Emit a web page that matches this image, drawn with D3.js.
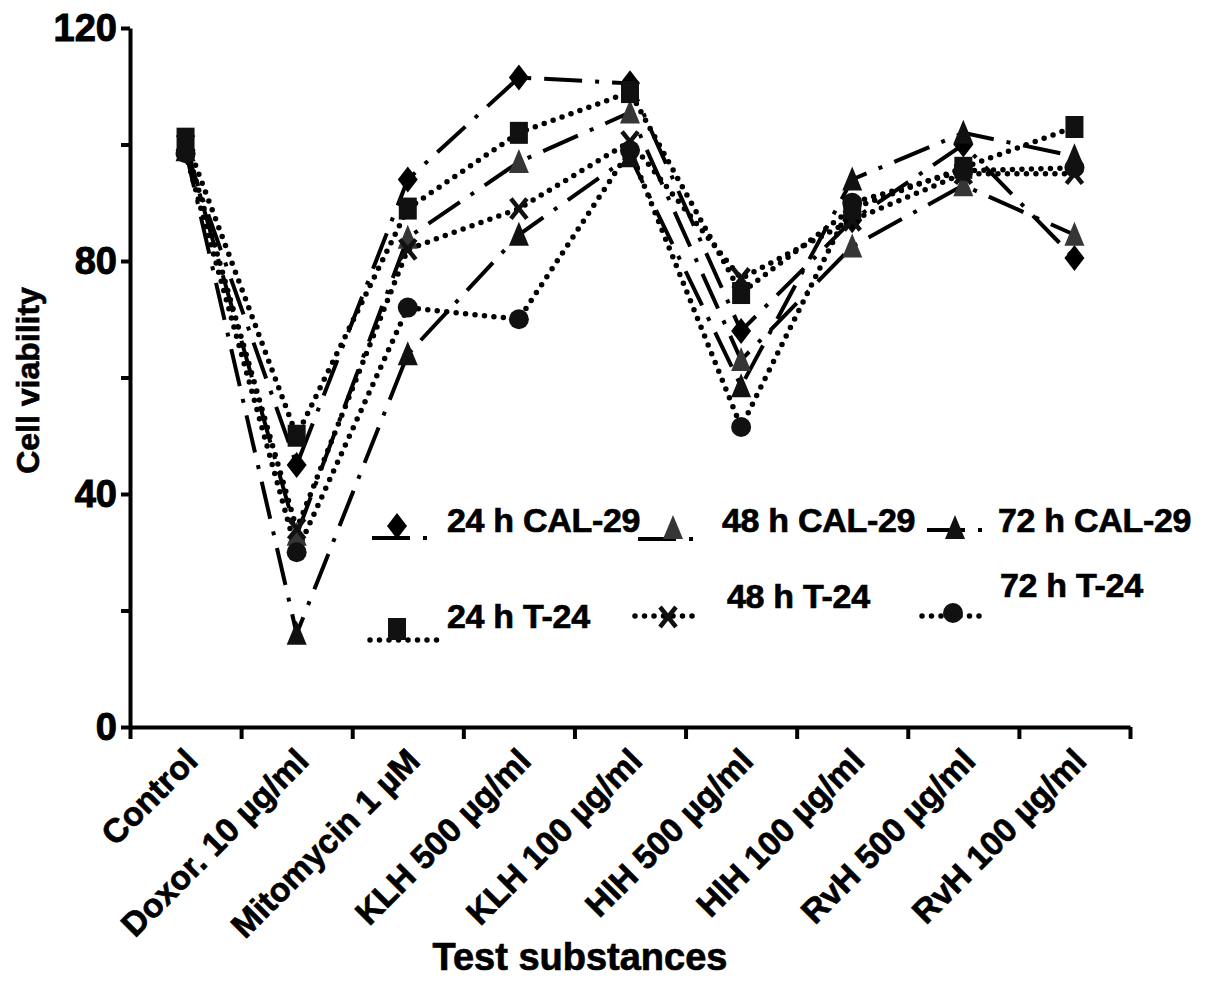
<!DOCTYPE html>
<html>
<head>
<meta charset="utf-8">
<title>Cell viability</title>
<style>
  body { margin: 0; background: #fff; }
  text { font-family: "Liberation Sans", Arial, sans-serif; font-weight: bold; fill: #000; stroke: #000; stroke-width: 0.7px; }
</style>
</head>
<body>
<div id="chart"></div>
<script src="https://cdn.jsdelivr.net/npm/d3@7"></script>
<script>
// data
const categories = ["Control", "Doxor. 10 µg/ml", "Mitomycin 1 µM", "KLH 500 µg/ml", "KLH 100 µg/ml",
                    "HlH 500 µg/ml", "HlH 100 µg/ml", "RvH 500 µg/ml", "RvH 100 µg/ml"];
const cal24h = [99, 45, 94, 111.5, 110.5, 68, 87, 100, 80.5];
const cal48h = [100, 33, 84, 97, 105.5, 63, 82.5, 93, 84.5];
const cal72h = [99, 16, 64, 84.5, 98, 58.5, 94, 102, 98];
const t24h = [101, 50, 89, 102, 109, 74.5, 89, 96, 103];
const t48h = [100, 34, 82, 89, 100.5, 77, 87, 95, 95];
const t72h = [98.5, 30, 72, 70, 99, 51.5, 90, 95.5, 96];
const yTicks = [0, 20, 40, 60, 80, 100, 120];
const yLabels = [0, 40, 80, 120];

const W = 1205, H = 990;
const x0 = 130, x1 = 1130, yBottom = 727, yTop = 28;

const svg = d3.select("#chart").append("svg")
    .attr("width", W)
    .attr("height", H);

const x = d3.scaleBand().domain(categories).range([x0, x1]);
const xEdges = d3.scaleLinear().domain([0, categories.length]).range([x0, x1]);
const y = d3.scaleLinear().domain([0, 120]).range([yBottom, yTop]);

// marker shapes (fixed size, ignore d3 size)
const shapes = {
    diamond: { draw(c) { c.moveTo(0, -13); c.lineTo(10, 0); c.lineTo(0, 13); c.lineTo(-10, 0); c.closePath(); } },
    triangle: { draw(c) { c.moveTo(0, -13); c.lineTo(10, 11); c.lineTo(-10, 11); c.closePath(); } },
    square: { draw(c) { c.rect(-9, -11, 18, 22); } },
    circle: { draw(c) { c.ellipse ? c.ellipse(0, 0, 9, 11.5, 0, 0, 2 * Math.PI) : c.arc(0, 0, 10, 0, 2 * Math.PI); } }
};

const calDash = "38,13,4,13";
const series = [
    { name: "24 h CAL-29", values: cal24h, shape: "diamond", fill: "#000", dotted: false },
    { name: "48 h CAL-29", values: cal48h, shape: "triangle", fill: "#363636", dotted: false },
    { name: "72 h CAL-29", values: cal72h, shape: "triangle", fill: "#111", dotted: false },
    { name: "24 h T-24", values: t24h, shape: "square", fill: "#111", dotted: true },
    { name: "48 h T-24", values: t48h, shape: "cross", fill: "#111", dotted: true },
    { name: "72 h T-24", values: t72h, shape: "circle", fill: "#111", dotted: true }
];

function styleLine(sel, s) {
    if (s.dotted) {
        sel.attr("stroke-width", 5.5).attr("stroke-dasharray", "0,9.5").attr("stroke-linecap", "round");
    } else {
        sel.attr("stroke-width", 4).attr("stroke-dasharray", calDash).attr("stroke-linecap", "butt");
    }
    return sel.attr("fill", "none").attr("stroke", "#000");
}

function drawMarker(g, s, cx, cy) {
    if (s.shape === "cross") {
        g.append("path")
            .attr("d", `M${cx - 8},${cy - 10}L${cx + 8},${cy + 10}M${cx + 8},${cy - 10}L${cx - 8},${cy + 10}`)
            .attr("stroke", s.fill).attr("stroke-width", 4.5).attr("fill", "none");
    } else {
        g.append("path")
            .attr("d", d3.symbol().type(shapes[s.shape])())
            .attr("transform", `translate(${cx},${cy})`)
            .attr("fill", s.fill);
    }
}

// axes
const yAxis = svg.append("g")
    .attr("transform", `translate(${x0},0)`)
    .call(d3.axisLeft(y).tickValues(yTicks).tickSize(9).tickSizeOuter(0)
        .tickFormat(d => yLabels.includes(d) ? d : ""));
yAxis.select(".domain").attr("stroke-width", 4);
yAxis.selectAll(".tick line").attr("stroke-width", 4);
yAxis.selectAll(".tick text")
    .attr("x", -13)
    .style("font-size", "38px")
    .style("font-family", "'Liberation Sans', Arial, sans-serif")
    .style("font-weight", "bold")
    .style("stroke", "#000")
    .style("stroke-width", "1px");

const xAxis = svg.append("g")
    .attr("transform", `translate(0,${yBottom})`)
    .call(d3.axisBottom(xEdges).tickValues(d3.range(0, categories.length + 1)).tickSize(12)
        .tickSizeOuter(0).tickFormat(""));
xAxis.select(".domain").attr("stroke-width", 4);
xAxis.selectAll(".tick line").attr("stroke-width", 4);

svg.append("g").selectAll("text")
    .data(categories)
    .join("text")
    .attr("text-anchor", "end")
    .attr("transform", d => `translate(${x(d) + x.bandwidth() / 2 + 14},${yBottom + 36}) rotate(-45)`)
    .style("font-size", "33.5px")
    .text(d => d);

// titles
svg.append("text")
    .attr("text-anchor", "middle")
    .attr("transform", `translate(39,${(yTop + yBottom) / 2 + 3}) rotate(-90)`)
    .style("font-size", "32px")
    .text("Cell viability");

svg.append("text")
    .attr("text-anchor", "middle")
    .attr("x", 580)
    .attr("y", 970)
    .style("font-size", "38px")
    .text("Test substances");

// lines
const line = d3.line()
    .x((d, i) => x(categories[i]) + x.bandwidth() / 2)
    .y(d => y(d));

const plot = svg.append("g");
series.forEach(s => {
    styleLine(plot.append("path").datum(s.values).attr("d", line), s);
});
const marks = svg.append("g");
series.forEach(s => {
    s.values.forEach((v, i) => drawMarker(marks, s, x(categories[i]) + x.bandwidth() / 2, y(v)));
});

// legend
const legendPos = [
    { lx: [372, 432], ly: 538, mx: 397, my: 526, tx: 447, ty: 532 },
    { lx: [638, 696], ly: 539, mx: 673, my: 528, tx: 722, ty: 532 },
    { lx: [927, 985], ly: 530, mx: 955, my: 528, tx: 998, ty: 532 },
    { lx: [370, 437], ly: 640, mx: 397, my: 629, tx: 447, ty: 628 },
    { lx: [635, 699], ly: 616, mx: 668, my: 617, tx: 727, ty: 608 },
    { lx: [922, 985], ly: 616, mx: 953, my: 613, tx: 1000, ty: 597 }
];
const legend = svg.append("g");
series.forEach((s, i) => {
    const p = legendPos[i];
    styleLine(legend.append("path").attr("d", `M${p.lx[0]},${p.ly}L${p.lx[1]},${p.ly}`), s);
    drawMarker(legend, s, p.mx, p.my);
    legend.append("text")
        .attr("x", p.tx)
        .attr("y", p.ty)
        .style("font-size", "34px")
        .style("letter-spacing", "-0.3px")
        .text(s.name);
});
</script>
</body>
</html>
